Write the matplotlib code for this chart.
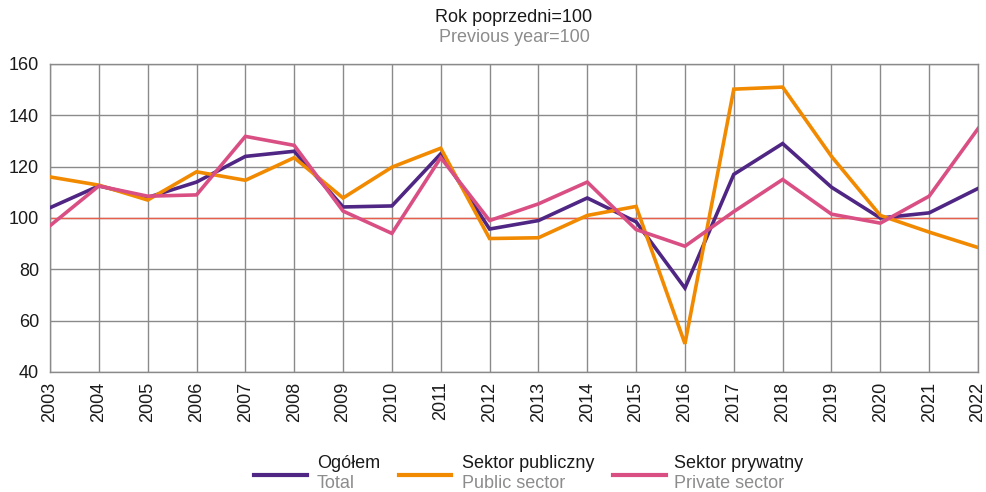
import matplotlib
import matplotlib.pyplot as plt
from matplotlib.lines import Line2D

matplotlib.rcParams["font.family"] = ["Liberation Sans", "DejaVu Sans"]

# ── Dane ───────────────────────────────────────────────────────────────────────
lata = list(range(2003, 2023))
ogolem = [104.0, 112.5, 108.0, 114.0, 124.0, 126.0, 104.3, 104.7, 125.0, 95.7,
          99.0, 107.8, 98.5, 72.7, 117.0, 129.0, 112.0, 100.0, 102.0, 111.5]
publiczny = [116.0, 112.8, 107.0, 118.0, 114.7, 123.5, 107.8, 119.8, 127.2, 92.0,
             92.3, 101.0, 104.5, 51.0, 150.2, 151.0, 124.0, 101.0, 94.5, 88.5]
prywatny = [97.0, 112.5, 108.5, 109.0, 131.8, 128.3, 102.7, 94.0, 123.5, 99.0,
            105.5, 114.0, 95.5, 89.0, 102.5, 115.0, 101.5, 98.0, 108.5, 134.8]

serie = [
    ("Ogółem", "Total", ogolem, "#4f2683"),
    ("Sektor publiczny", "Public sector", publiczny, "#f18a00"),
    ("Sektor prywatny", "Private sector", prywatny, "#d94f84"),
]

FS = 13

# ── Wykres ─────────────────────────────────────────────────────────────────────
fig = plt.figure(figsize=(9.86, 4.92), dpi=100)
ax = fig.add_axes([50 / 986, 1 - 372 / 492, 928 / 986, 308 / 492])

ax.axhline(100, color="#e8604c", lw=1.0, zorder=2)
for _, _, vals, col in serie:
    ax.plot(lata, vals, color=col, lw=2.6, zorder=3, solid_joinstyle="miter")

ax.set_xlim(2003, 2022)
ax.set_ylim(40, 160)
ax.set_yticks(range(40, 161, 20))
ax.set_xticks(lata)
ax.set_xticklabels([str(r) for r in lata], rotation=90)
ax.grid(True, color="#8a8a8a", lw=1.0, zorder=1)
ax.tick_params(length=0, labelsize=FS, colors="#1a1a1a")
ax.tick_params(axis="y", pad=8)
ax.tick_params(axis="x", pad=7)
for s in ax.spines.values():
    s.set_color("#8a8a8a")
    s.set_linewidth(1.0)

fig.text(514 / 986, 1 - 17 / 492, "Rok poprzedni=100", ha="center", va="center",
         fontsize=FS, color="#1a1a1a")
fig.text(514 / 986, 1 - 38 / 492, "Previous year=100", ha="center", va="center",
         fontsize=FS, color="#8c8c8c")

# ── Legenda ────────────────────────────────────────────────────────────────────
leg_x = [(254, 307, 317), (399, 451, 462), (613, 666, 674)]
for (x0, x1, xt), (pl, en, _, col) in zip(leg_x, serie):
    fig.add_artist(Line2D([x0 / 986, x1 / 986], [1 - 475 / 492] * 2,
                          color=col, lw=3.0, transform=fig.transFigure))
    fig.text(xt / 986, 1 - 464 / 492, pl, ha="left", va="center",
             fontsize=FS, color="#1a1a1a")
    fig.text(xt / 986, 1 - 483 / 492, en, ha="left", va="center",
             fontsize=FS, color="#8c8c8c")

fig.savefig("out.png", dpi=100)
